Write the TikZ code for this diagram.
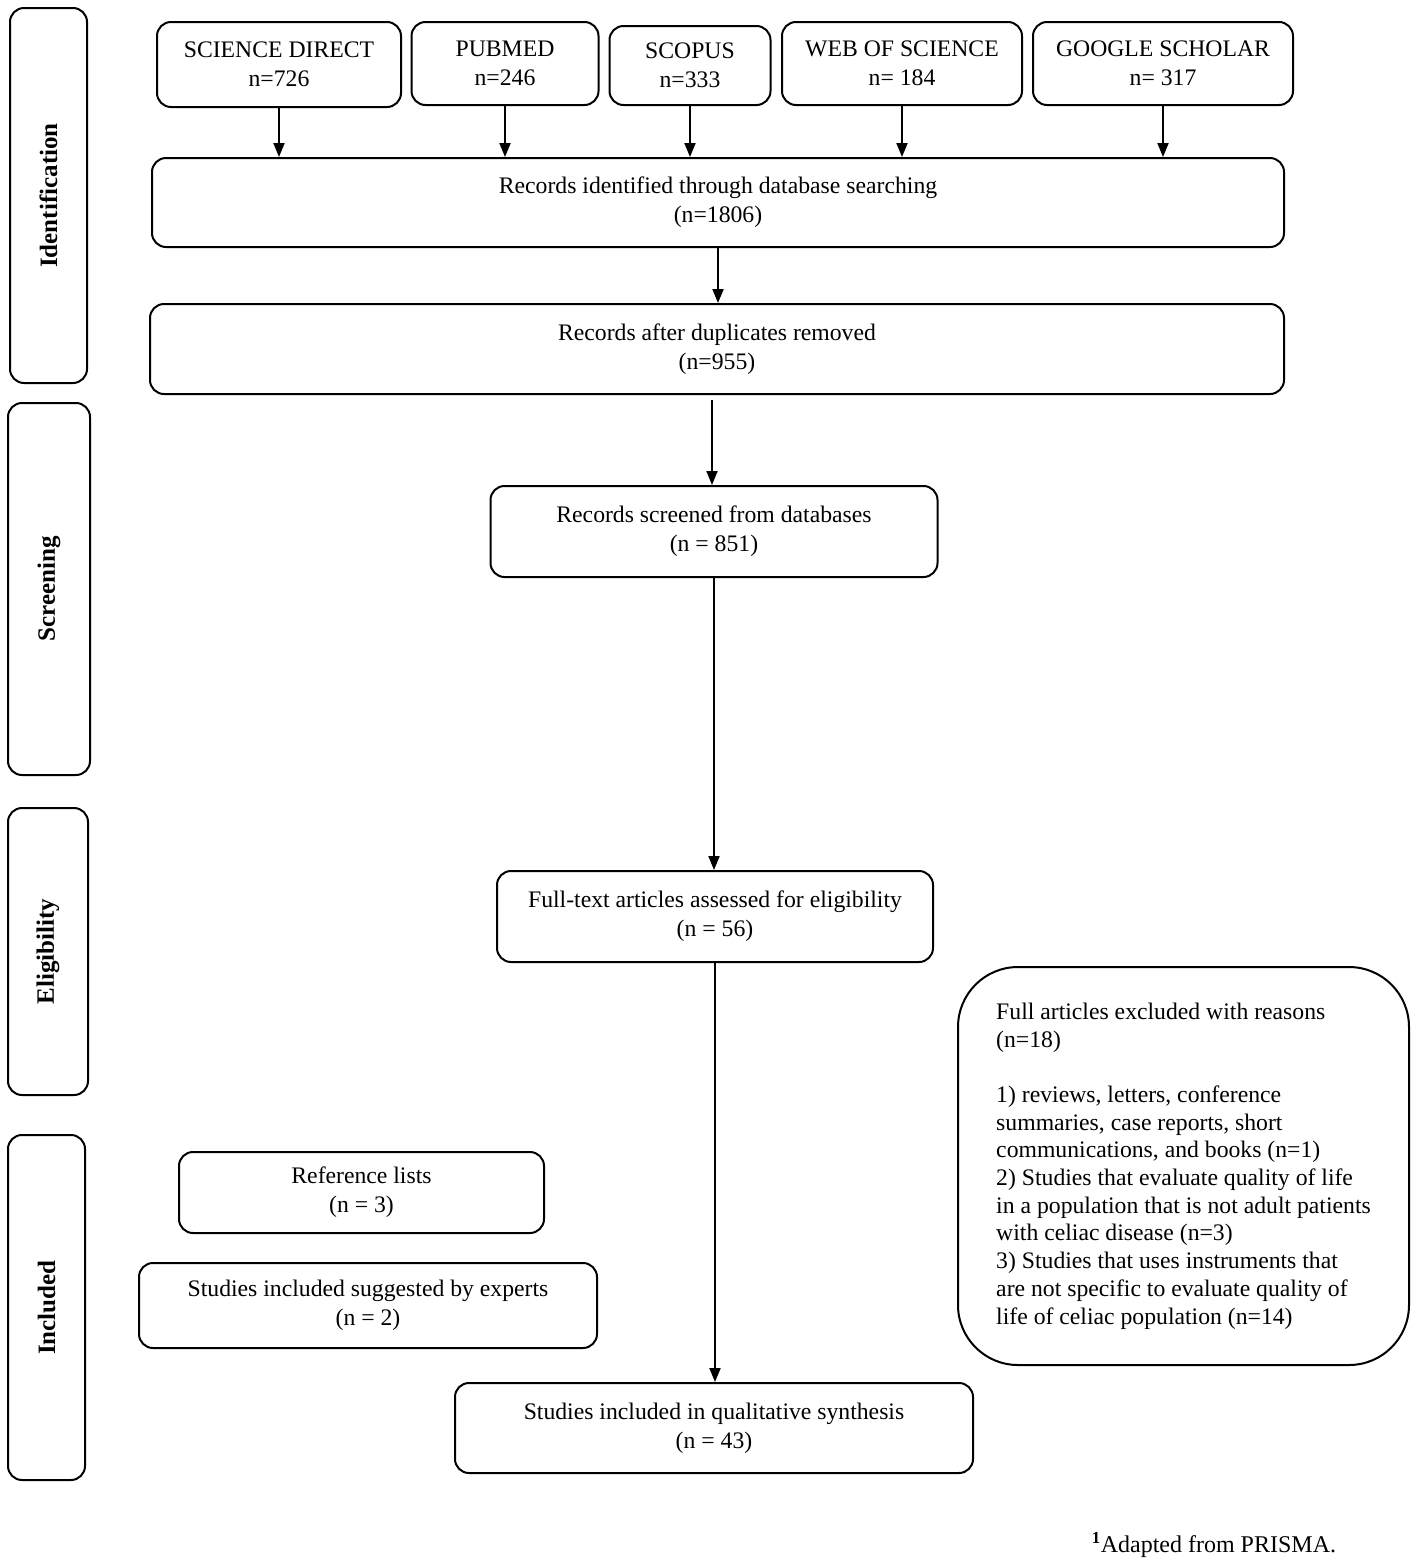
\documentclass[tikz,border=0pt]{standalone}
\usepackage{fontspec}
\setmainfont{Liberation Serif}
\usetikzlibrary{arrows.meta,calc}
\begin{document}
\begin{tikzpicture}[x=1pt,y=-1pt,
  box/.style={draw,line width=2pt,rounded corners=14pt,align=center,inner sep=0pt,
    font=\fontsize{23.7}{29}\selectfont},
  side/.style={draw,line width=2pt,rounded corners=14pt,inner sep=0pt},
  sidelab/.style={rotate=90,font=\fontsize{25}{28}\selectfont\bfseries},
  arr/.style={line width=2pt,-{Triangle[length=14pt,width=11pt]}}]
\useasboundingbox (0,0) rectangle (1417,1564);
% side phase boxes
\node[side,minimum width=77,minimum height=375] (sident) at (48.5,195.5) {};
\node[sidelab] (lident) at (sident.center) {Identification};
\node[side,minimum width=82,minimum height=372] (sscreen) at (49,589) {};
\node[sidelab] (lscreen) at (sscreen.center) {Screening};
\node[side,minimum width=80,minimum height=287] (selig) at (48,951.5) {};
\node[sidelab] (lelig) at (selig.center) {Eligibility};
\node[side,minimum width=77,minimum height=345] (sincl) at (46.5,1307.5) {};
\node[sidelab] (lincl) at (sincl.center) {Included};
% databases
\node[box,minimum width=244,minimum height=85] (sd) at (279,64.5) {SCIENCE DIRECT\\n=726};
\node[box,minimum width=187,minimum height=83] (pm) at (505,63.5) {PUBMED\\n=246};
\node[box,minimum width=161,minimum height=79] (sc) at (690,65.5) {SCOPUS\\n=333};
\node[box,minimum width=240,minimum height=83] (ws) at (902,63.5) {WEB OF SCIENCE\\n= 184};
\node[box,minimum width=260,minimum height=83] (gs) at (1163,63.5) {GOOGLE SCHOLAR\\n= 317};
% main flow
\node[box,minimum width=1132,minimum height=89] (rid) at (718,202.5) {Records identified through database searching\\(n=1806)};
\node[box,minimum width=1134,minimum height=90] (dup) at (717,349) {Records after duplicates removed\\(n=955)};
\node[box,minimum width=447,minimum height=91] (scr) at (714,531.5) {Records screened from databases\\(n = 851)};
\node[box,minimum width=436,minimum height=91] (ft) at (715,916.5) {Full-text articles assessed for eligibility\\(n = 56)};
\node[box,minimum width=518,minimum height=90] (inc) at (714,1428) {Studies included in qualitative synthesis\\(n = 43)};
\node[box,minimum width=365,minimum height=81] (ref) at (361.5,1192.5) {Reference lists\\(n = 3)};
\node[box,minimum width=458,minimum height=85] (exp) at (368,1305.5) {Studies included suggested by experts\\(n = 2)};
\node[box,rounded corners=60pt,align=left,minimum width=451,minimum height=398,
  font=\fontsize{23.7}{27.7}\selectfont] (exc) at (1183.5,1166)
  {Full articles excluded with reasons\\(n=18)\\[27.7pt]
   1) reviews, letters, conference\\summaries, case reports, short\\communications, and books (n=1)\\
   2) Studies that evaluate quality of life\\in a population that is not adult patients\\with celiac disease (n=3)\\
   3) Studies that uses instruments that\\are not specific to evaluate quality of\\life of celiac population (n=14)};
% footnote
\node[font=\fontsize{24}{28}\selectfont] (fn) at (1214,1545) {\textsuperscript{\bfseries 1}Adapted from PRISMA.};
% arrows
\foreach \n in {sd,pm,sc,ws,gs} {
  \draw[arr] (\n.south) -- (\n.south |- rid.north);
}
\draw[arr] (rid.south) -- (rid.south |- dup.north);
\coordinate (dupx) at (712,400);
\draw[arr] (dupx) -- (dupx |- scr.north);
\draw[arr] (scr.south) -- (scr.south |- ft.north);
\draw[arr] (ft.south) -- (ft.south |- inc.north);
\end{tikzpicture}
\end{document}
